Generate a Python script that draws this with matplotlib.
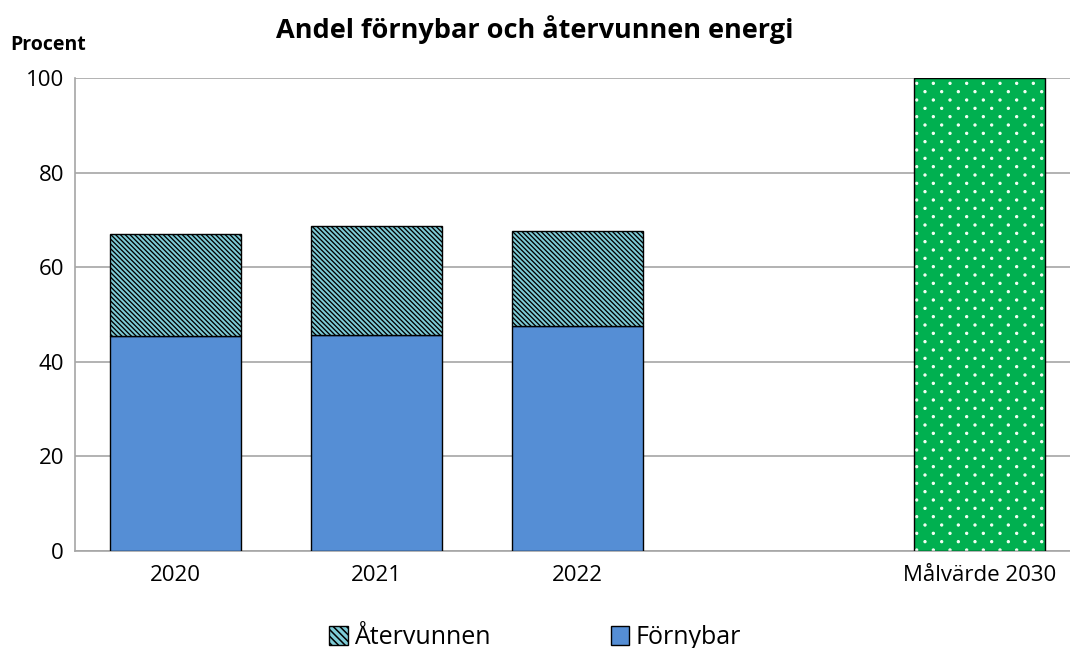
import matplotlib
matplotlib.use("Agg")
import numpy as np
import matplotlib.pyplot as plt
import matplotlib.hatch as mhatch
from matplotlib.path import Path
from matplotlib.patches import Patch

plt.rcParams['font.family'] = ['Open Sans', 'DejaVu Sans']

categories = ['2020', '2021', '2022', 'Målvärde 2030']
fornybar = [45.5, 45.7, 47.6]
atervunnen = [21.5, 23.0, 20.1]
malvarde = [100]
yticks = [0, 20, 40, 60, 80, 100]


# Custom dot lattice for '.' hatch: staggered rows (denser rows than columns)
class DotLattice(mhatch.HatchPatternBase):
    def __init__(self, hatch, density):
        self.n = hatch.count('.') * density
        circ = Path.unit_circle()
        self.sv = circ.vertices
        self.sc = circ.codes
        if self.n == 0:
            self.num_vertices = 0
            return
        self.rows = 2 * self.n
        nshapes = (self.rows // 2 + 1) * (self.n + 1) + (self.rows // 2) * self.n
        self.num_vertices = nshapes * len(self.sv)

    def set_vertices_and_codes(self, vertices, codes):
        r = 0.011
        vp, cp = [], []
        for row in range(self.rows + 1):
            if row % 2 == 0:
                cols = np.linspace(0, 1, self.n + 1)
            else:
                cols = np.linspace(0.5 / self.n, 1 - 0.5 / self.n, self.n)
            for c in cols:
                vp.append(self.sv * r + [c, row / self.rows])
                cp.append(self.sc)
        np.concatenate(vp, out=vertices)
        np.concatenate(cp, out=codes)


mhatch._hatch_types = [DotLattice if t is mhatch.SmallFilledCircles else t
                       for t in mhatch._hatch_types]

positions = [0, 1, 2, 4]
width = 0.65

fig = plt.figure(figsize=(10.7, 6.48), dpi=100)
ax = fig.add_axes([0.0701, 0.1497, 0.9299, 0.7299])

blue = '#558ed5'
teal = '#7ecbd6'
green = '#00b050'
diag = '\\' * 7

ax.bar(positions[:3], fornybar, width, color=blue, edgecolor='black', linewidth=1, zorder=3)
plt.rcParams['hatch.linewidth'] = 0.95
ax.bar(positions[:3], atervunnen, width, bottom=fornybar, color=teal, edgecolor='black',
       hatch=diag, linewidth=1, zorder=3)

# target bar: white dots, black border
plt.rcParams['hatch.linewidth'] = 0.8
ax.bar([positions[3]], malvarde, width, color=green, edgecolor='#f4fff4', hatch='.', linewidth=0, zorder=3)
ax.bar([positions[3]], malvarde, width, fill=False, edgecolor='black', linewidth=1, zorder=4)

ax.set_xlim(-0.5, 4.45)
ax.set_ylim(0, 100)
ax.set_yticks(yticks)
ax.set_xticks(positions)
ax.set_xticklabels(categories)
ax.tick_params(axis='both', length=0, labelsize=16, colors='black')
ax.tick_params(axis='x', pad=10)
ax.tick_params(axis='y', pad=8)
ax.yaxis.grid(True, color='#a6a6a6', linewidth=1.2, zorder=0)
ax.set_axisbelow(True)
for s in ['top', 'right']:
    ax.spines[s].set_visible(False)
for s in ['left', 'bottom']:
    ax.spines[s].set_color('#a6a6a6')
    ax.spines[s].set_linewidth(1.2)

fig.text(0.5, 0.955, 'Andel förnybar och återvunnen energi', ha='center', va='center',
         fontsize=19.5, fontweight='bold')
fig.text(0.01, 0.93, 'Procent', ha='left', va='center', fontsize=14, fontweight='bold')

plt.rcParams['hatch.linewidth'] = 1.1
handles = [Patch(facecolor=teal, edgecolor='black', hatch='\\' * 5, label='Återvunnen'),
           Patch(facecolor=blue, edgecolor='black', label='Förnybar')]
fig.legend(handles=handles, loc='lower center', bbox_to_anchor=(0.5, -0.038), ncol=2,
           frameon=False, fontsize=18, handlelength=0.75, handleheight=0.75,
           handletextpad=0.25, columnspacing=4.8)

fig.savefig('out.png', dpi=100)
